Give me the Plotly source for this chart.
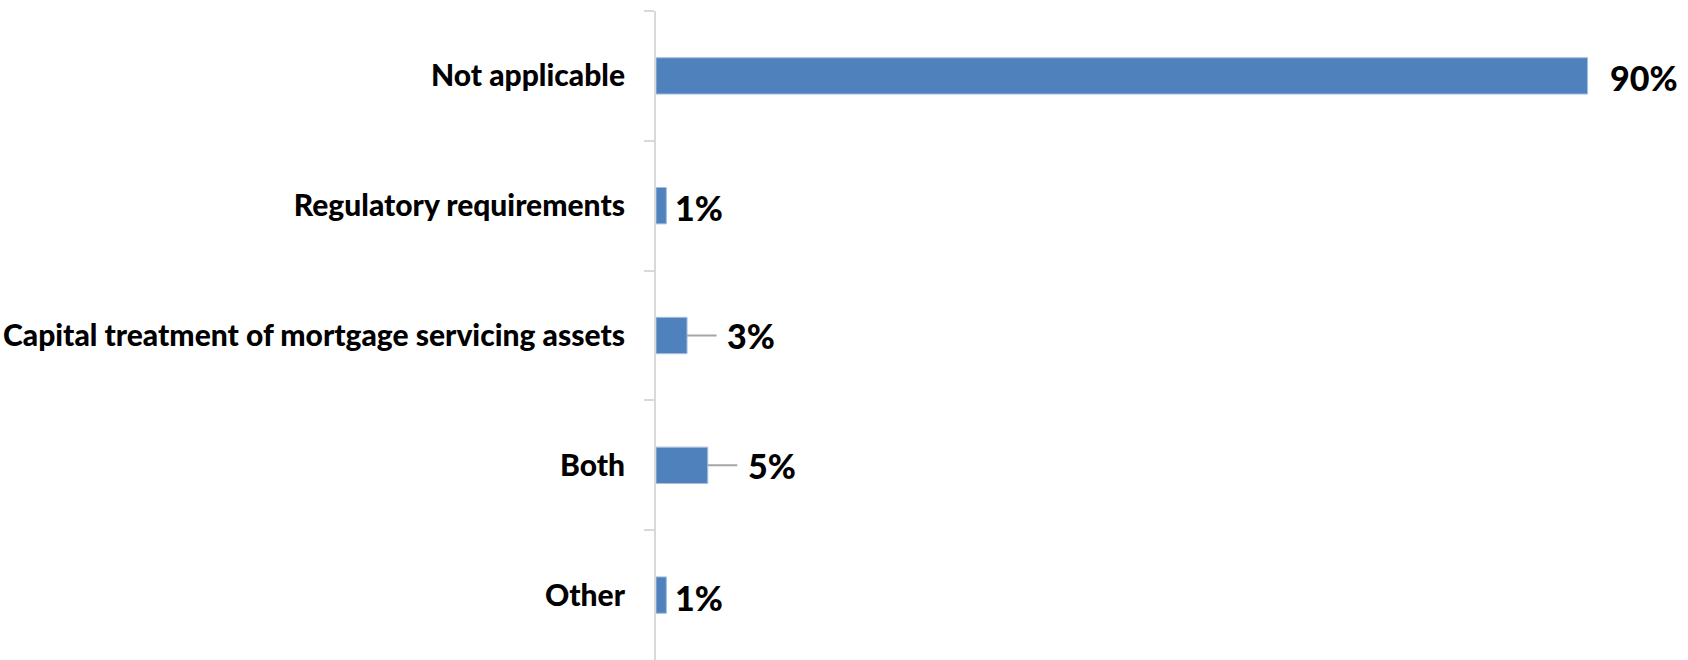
import plotly.graph_objects as go

# Survey responses, top to bottom
categories = [
    "Not applicable",
    "Regulatory requirements",
    "Capital treatment of mortgage servicing assets",
    "Both",
    "Other",
]
shares = [90, 1, 3, 5, 1]
share_labels = ["90%", "1%", "3%", "5%", "1%"]

# label placement: (pixel gap after bar end, draw a leader line)
label_style = {
    "90%": (20, False),
    "1%": (7, False),
    "3%": (42, True),
    "5%": (42, True),
}

BAR_COLOR = "#4f81bd"
AXIS_GREY = "#d9d9d9"
FONT = "Lato"

fig = go.Figure(
    go.Bar(
        x=shares,
        y=categories,
        orientation="h",
        width=0.28,
        marker=dict(color=BAR_COLOR, line=dict(color="#a7bfde", width=1)),
        hoverinfo="skip",
    )
)

label_font = dict(family=FONT, size=34, color="#000000", weight=900)

for val, cat, txt in zip(shares, categories, share_labels):
    gap, leader = label_style[txt]
    if leader:
        # text box centred beyond the leader line
        approx_w = 22 * len(txt)
        fig.add_annotation(
            x=val, y=cat, xref="x", yref="y",
            text=txt,
            showarrow=True, arrowhead=0, arrowwidth=2, arrowcolor="#a6a6a6",
            ax=gap + approx_w / 2, ay=0, startstandoff=9,
            font=label_font,
        )
    else:
        fig.add_annotation(
            x=val, y=cat, xref="x", yref="y",
            text=txt,
            showarrow=False, xanchor="left", xshift=gap, yshift=-2,
            font=label_font,
        )

fig.update_layout(
    width=1688,
    height=660,
    margin=dict(l=656, r=0, t=11, b=0),
    paper_bgcolor="white",
    plot_bgcolor="white",
    showlegend=False,
    font=dict(family=FONT, color="#000000"),
    xaxis=dict(visible=False, range=[0, 99.7]),
    yaxis=dict(
        type="category",
        autorange="reversed",
        showline=True,
        linecolor=AXIS_GREY,
        linewidth=2,
        ticks="outside",
        tickson="boundaries",
        ticklen=10,
        tickwidth=2,
        tickcolor=AXIS_GREY,
        ticklabelstandoff=23,
        showgrid=False,
        zeroline=False,
        tickfont=dict(family=FONT, size=30, color="#000000", weight=900),
    ),
)

fig.write_html("out.html")
